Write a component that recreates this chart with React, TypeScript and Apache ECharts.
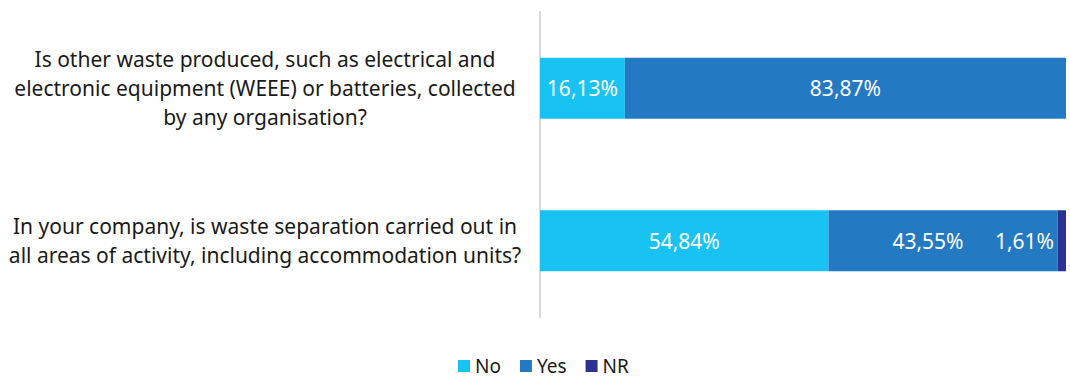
import React, { useEffect, useRef } from "react";
import * as echarts from "echarts";

const categories = [
  "Is other waste produced, such as electrical and\nelectronic equipment (WEEE) or batteries, collected\nby any organisation?",
  "In your company, is waste separation carried out in\nall areas of activity, including accommodation units?",
];
const seriesNames = ["No", "Yes", "NR"];
const noValues = [16.13, 54.84];
const yesValues = [83.87, 43.55];
const nrValues = [0, 1.61];
const colors = ["#18C3F4", "#2479C3", "#2E3192"];

const FONT = "Noto Sans";

export default function App() {
  const ref = useRef<HTMLDivElement>(null);
  useEffect(() => {
    document.body.style.margin = "0";
    const chart = echarts.init(ref.current!, null, { renderer: "svg" });
    const fmt = (p: any) =>
      p.value > 0 ? p.value.toFixed(2).replace(".", ",") + "%" : "";
    const labelBase = {
      show: true,
      color: "#ffffff",
      fontSize: 21,
      fontFamily: FONT,
      formatter: fmt,
    };
    chart.setOption({
      animation: false,
      color: colors,
      textStyle: { fontFamily: FONT },
      grid: { left: 540, right: 4, top: 12, bottom: 60 },
      xAxis: { type: "value", min: 0, max: 100, show: false },
      yAxis: {
        type: "category",
        inverse: true,
        data: categories,
        axisLine: { show: true, lineStyle: { color: "#D9D9D9", width: 2 } },
        axisTick: { show: false },
        axisLabel: {
          align: "center",
          margin: 275,
          fontSize: 21,
          lineHeight: 29,
          color: "#1a1a1a",
          fontFamily: FONT,
        },
      },
      legend: {
        top: 355,
        left: 458,
        itemWidth: 12,
        itemHeight: 12,
        itemGap: 19,
        icon: "rect",
        padding: 0,
        textStyle: { fontSize: 19, lineHeight: 22, color: "#1a1a1a", fontFamily: FONT },
        data: seriesNames,
      },
      series: [
        {
          name: seriesNames[0],
          type: "bar",
          stack: "a",
          barWidth: "40%",
          data: noValues,
          label: { ...labelBase, position: "inside" },
        },
        {
          name: seriesNames[1],
          type: "bar",
          stack: "a",
          barWidth: "40%",
          data: yesValues.map((v, i) =>
            i === 1 ? { value: v, label: { offset: [-15, 0] } } : v
          ),
          label: { ...labelBase, position: "inside" },
        },
        {
          name: seriesNames[2],
          type: "bar",
          stack: "a",
          barWidth: "40%",
          data: nrValues,
          label: { ...labelBase, position: "insideRight", distance: 4, offset: [-8, 0] },
        },
      ],
    });
    return () => chart.dispose();
  }, []);
  return <div ref={ref} style={{ width: 1070, height: 377 }} />;
}
